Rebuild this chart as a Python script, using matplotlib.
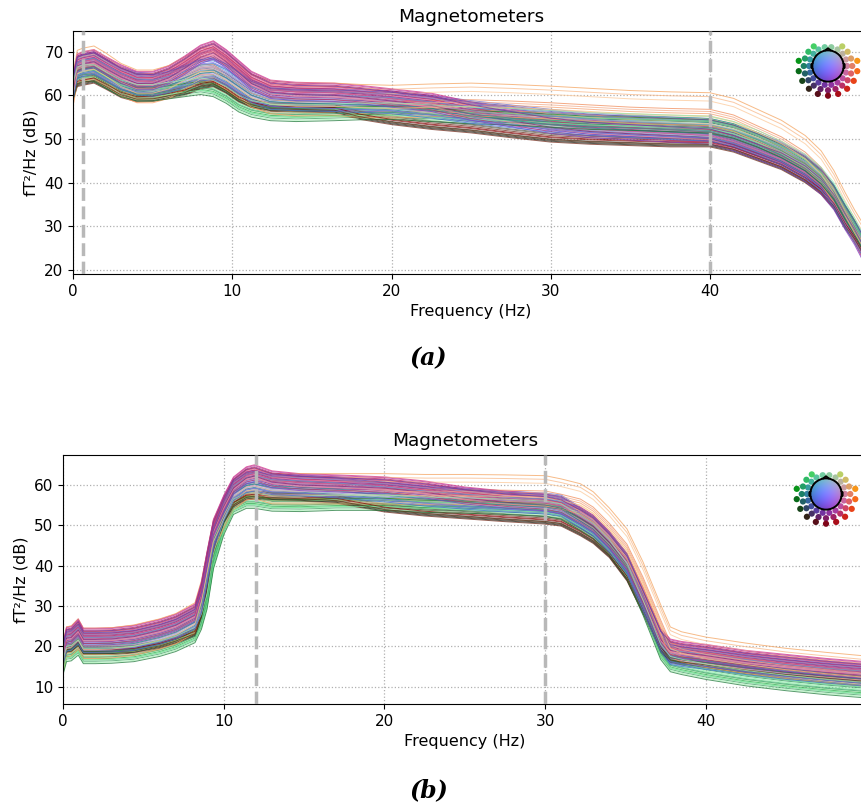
import numpy as np
import matplotlib
matplotlib.use("Agg")
import matplotlib.pyplot as plt
from matplotlib.patches import Circle, Polygon

# ---- panel (a): group level curves (dB) read at these frequencies ----
freqs_a = [0, 0.25, 0.6, 1.3, 2, 3, 4, 5, 6, 7, 8, 8.8, 9.6, 10.4, 11.2, 12.4, 14, 16.4, 18, 20,
           22.5, 25, 27.5, 30, 32.5, 35, 37.5, 40, 41.5, 43, 44.5, 46, 47, 47.8, 48.5, 49.1, 49.6]
orange_a = [65, 70, 70.5, 71, 69.5, 67, 65.5, 65.5, 66.5, 68.5, 70.5, 70.5, 68.5, 66.5, 64.5, 63, 62.5, 62.5, 62.2, 62,
            62.3, 62.5, 62.2, 61.8, 61.3, 60.8, 60.5, 60.3, 59, 56.5, 54, 50.5, 47, 42.5, 37.5, 33.5, 30.5]
magenta_a = [64, 68.5, 69, 69.5, 68, 66, 64.5, 64.5, 65.8, 68, 70.5, 71.5, 69.5, 67, 64.5, 62.5, 62, 61.8, 61.3, 60.5,
             59.5, 57.5, 56, 54.5, 53.5, 53, 52.5, 52, 50.5, 48.5, 46.5, 43.5, 40.5, 37, 32.5, 29, 25.5]
blue_a = [62, 66.5, 67, 67.5, 66, 64, 62.8, 62.5, 63.3, 64.5, 66, 66.3, 65, 63, 61, 59.5, 59.2, 59, 58.8, 58.5,
          57.5, 56.3, 55.3, 54.3, 53.5, 53, 52.6, 52.2, 51, 49, 46.8, 43.8, 40.8, 37, 32.5, 29, 26]
green_a = [61, 64.5, 65, 65, 63.5, 61.5, 60.5, 60.5, 61, 61.5, 62, 61.5, 60, 58, 56.8, 56, 55.8, 56, 56.2, 56.3,
           55.8, 55.3, 55, 54.5, 54, 53.8, 53.5, 53.2, 52, 50, 47.5, 44.5, 41.5, 38, 33.5, 30, 26.5]
dark_a = [60, 63, 63.3, 63.8, 62.5, 60.5, 59.5, 59.6, 60.3, 61, 62.5, 63, 61.5, 59.5, 58.2, 57.3, 57.2, 57, 55.5, 54.3,
          53.2, 52.4, 51.3, 50.3, 49.8, 49.5, 49.2, 49.2, 48, 46, 44, 41, 38.3, 35, 30.5, 27.5, 24.5]

# ---- panel (b) ----
freqs_b = [0, 0.2, 0.5, 0.93, 1.25, 2, 3, 4.4, 6, 7, 8.2, 8.6, 8.95, 9.35, 10, 10.6, 11.4, 11.9, 13, 14.75,
           17, 20, 22.5, 25, 27.5, 30, 31, 32.2, 33, 34, 35.1, 36.1, 37.2, 37.8, 38.5, 40, 42.5, 45, 47.5, 49.7]
orange_b = [21, 24.5, 24.8, 26.5, 24.2, 24.2, 24.3, 25, 26.5, 27.8, 30.5, 36, 43, 51, 56.5, 61, 63.5, 63.8, 62.5, 62.5,
            62.5, 62.5, 62.3, 62.3, 62.2, 62, 61.2, 60, 58, 54, 48.8, 40.6, 30, 24.5, 23.3, 22, 20.5, 19.2, 18.2, 17.4]
magenta_b = [20, 23.8, 24, 25.8, 23.5, 23.5, 23.6, 24.2, 25.7, 27, 29.5, 35, 42.5, 50.5, 56.5, 61, 63.5, 64, 62.5, 61.8,
             61.5, 61, 60, 58.5, 57.5, 56.8, 56, 53.5, 51.5, 47.5, 42, 33.5, 23.5, 20.8, 20.2, 19.5, 18, 17, 16, 15.3]
blue_b = [18.5, 21.5, 21.8, 23.3, 21.2, 21.2, 21.3, 21.7, 23.2, 24.5, 27, 31, 38, 47, 53.8, 58.8, 60.8, 61.2, 60.3, 60,
          59.5, 58.5, 57.5, 56.7, 56, 55.5, 55, 52, 50, 46, 40.6, 31.5, 21.5, 18.2, 17.7, 17, 15.7, 14.5, 13.6, 12.9]
green_b = [15, 18, 18.2, 19.6, 17.5, 17.5, 17.6, 18, 19.3, 20.5, 22.7, 26, 31, 41, 49.5, 54.5, 56, 56, 55.3, 55.2,
           55.5, 55.5, 55, 54.8, 54.5, 54, 53.3, 50.5, 48.5, 44.5, 38.5, 29.5, 18.5, 15.5, 14.8, 13.6, 12, 10.8, 9.8, 9.1]
dark_b = [17, 19.5, 19.6, 21, 19, 19, 19, 19.3, 20.5, 21.7, 23.5, 28, 35, 44, 51.5, 55.5, 57.3, 57.5, 57.2, 57,
          56.5, 54.3, 53.3, 52.6, 51.9, 51.3, 50.8, 48.4, 46.5, 43, 37.2, 29, 19.5, 17, 16.5, 15.8, 14.5, 13.4, 12.5, 11.8]

# ---- channels: colour and level relative to its group curve (dB) ----
orange_colors = ['#f4a460', '#f8b888', '#fcc99a', '#f08c5a', '#f5a070', '#fbd3a8',
                 '#f7956b', '#e9b070', '#f6bfa0', '#ff9f60', '#f3aa88', '#f9c27e']
orange_offsets = [0.3, -0.6, -1.6, -3.5, -4.5, -5.2, -5.8, -6.3, -6.8, -7.2, -4, -5]
magenta_colors = ['#d63384', '#c2185b', '#e0559a', '#b03080', '#e86a9a', '#a0206a', '#d84a70',
                  '#c8407a', '#e27aa8', '#9c2790', '#b83aa0', '#e05050', '#cc3366', '#a83280',
                  '#d0508c', '#8e1f6e', '#f07a90', '#c03070', '#8040c0', '#7030a0']
magenta_offsets = [1, 0.5, 0, -0.3, -0.6, -1, -1.3, -1.6, -2, -2.4,
                   0.8, 0.2, -0.4, -0.8, -1.2, -1.8, -2.2, -2.8, -3.2, 0.3]
blue_colors = ['#5a6ee0', '#6a5acd', '#4f7fd8', '#7b68ee', '#3f6fc0', '#5f9ad8', '#8a70e0', '#4a60b8',
               '#6f8fe8', '#5577cc', '#3a7ab8', '#9a8ae0', '#7fa0d8', '#2f80a0', '#4488aa', '#5b5bd6',
               '#8080c0', '#6699cc', '#a0a0c8', '#3c9090', '#2e8b8b', '#7070e0', '#6050b0', '#4070d0']
blue_offsets = [2.5, 2, 1.6, 1.2, 0.9, 0.6, 0.3, 0, -0.3, -0.6, -0.9, -1.2,
                -1.5, -1.8, -2.1, -2.4, 1.8, 1, 0.2, -0.5, -1, -2, 2.2, -2.7]
green_colors = ['#3cb371', '#66e08a', '#2e8b57', '#80f0a0', '#50c878', '#90ee90', '#20a040', '#6fd890',
                '#3a9d5d', '#a0f0b0', '#228b22', '#5ad080', '#40a070', '#78e898', '#1f7a3a', '#98e8b0']
green_offsets = [1.5, 1, 0.6, 0.3, 0, -0.3, -0.6, -0.9, -1.2, -1.5, 1.2, 0.8, -0.2, -0.8, -1.8, 2]
dark_colors = ['#5a5a48', '#6b2a1a', '#8b1a1a', '#4a4a3a', '#3a2a1a',
               '#7a3020', '#606050', '#2b2b20', '#800000', '#5c3317']
dark_offsets = [1, 0.5, 0, -0.3, -0.6, -1, 0.8, -0.8, 0.2, -0.4]

xticks = [0, 10, 20, 30, 40]
yticks_a = [20, 30, 40, 50, 60, 70]
yticks_b = [10, 20, 30, 40, 50, 60]
marks_a = [0.63, 40]
marks_b = [12, 30]

plt.rcParams['font.size'] = 11

W, H = 861, 811
fig = plt.figure(figsize=(W / 100, H / 100), dpi=100)


def draw_psd(ax, freqs, curves, marks, ylim, yticks):
    groups = [(curves[3], green_colors, green_offsets),
              (curves[4], dark_colors, dark_offsets),
              (curves[0], orange_colors, orange_offsets),
              (curves[2], blue_colors, blue_offsets),
              (curves[1], magenta_colors, magenta_offsets)]
    # interleave the groups so that no colour family sits fully on top
    lines = []
    for curve, colors, offsets in groups:
        n = len(colors)
        for i, (c, off) in enumerate(zip(colors, offsets)):
            lines.append(((i + 0.5) / n, curve, c, off))
    lines.sort(key=lambda t: t[0])
    for _, curve, c, off in lines:
        ax.plot(freqs, np.array(curve) + off, color=c, lw=0.7, alpha=0.75)
    for m in marks:
        ax.axvline(m, color='#b8b8b8', ls='--', lw=2.5, zorder=5)
    ax.set_xlim(0, 50)
    ax.set_ylim(*ylim)
    ax.set_xticks(xticks)
    ax.set_yticks(yticks)
    ax.grid(True, ls=':', color='#b0b0b0', lw=0.9)
    ax.set_title('Magnetometers', fontsize=13.3)
    ax.set_xlabel('Frequency (Hz)', fontsize=11.5)
    ax.set_ylabel('fT²/Hz (dB)', fontsize=11.5)


def sensor_rgb(x, y):
    r = np.hypot(x, y)
    return np.clip(np.stack([(x / 2.0 + 1) / 2, (y / 2.0 + 1) / 2, 1 - (r / 2.0) ** 2], -1), 0, 1)


def sensor_legend(cx, cy):
    size = 76
    ax = fig.add_axes([(cx - size / 2) / W, 1 - (cy + size / 2) / H, size / W, size / H])
    ax.set_xlim(-2.43, 2.43)
    ax.set_ylim(-2.43, 2.43)
    ax.axis('off')
    rings = [(1.22, list(range(0, 360, 20))),
             (1.55, [a for a in range(0, 360, 18) if not 55 < a < 125]),
             (1.9, list(range(170, 371, 20)))]
    for rad, angles in rings:
        t = np.deg2rad(angles)
        x, y = rad * np.cos(t), rad * np.sin(t)
        ax.scatter(x, y, s=20, c=sensor_rgb(x, y), edgecolors='none', zorder=1)
    g = np.linspace(-1, 1, 120)
    gx, gy = np.meshgrid(g, g)
    im = ax.imshow(sensor_rgb(gx, gy), extent=(-1, 1, -1, 1), origin='lower', zorder=2)
    clip = Circle((0, 0), 1, transform=ax.transData)
    im.set_clip_path(clip)
    ax.add_patch(Circle((0, 0), 1, fill=False, ec='black', lw=1.4, zorder=3))
    ax.add_patch(Polygon([(-0.2, 0.98), (0, 1.13), (0.2, 0.98)], closed=False,
                         fill=False, ec='black', lw=1.4, zorder=3))
    for s in (-1, 1):
        ax.plot([s * 0.99, s * 1.07, s * 1.07, s * 0.99], [0.18, 0.12, -0.12, -0.18],
                color='black', lw=1.2, zorder=3)


ax_a = fig.add_axes([73.3 / W, 1 - 274 / H, 0.924, (274 - 30.7) / H])
draw_psd(ax_a, freqs_a, [orange_a, magenta_a, blue_a, green_a, dark_a], marks_a, (19.1, 74.8), yticks_a)

ax_b = fig.add_axes([63.3 / W, 1 - 704 / H, 0.9326, (704 - 454.7) / H])
draw_psd(ax_b, freqs_b, [orange_b, magenta_b, blue_b, green_b, dark_b], marks_b, (5.7, 67.5), yticks_b)

sensor_legend(828, 66)
sensor_legend(826, 494)

fig.text(428.5 / W, 1 - 358 / H, '(a)', ha='center', va='center', fontsize=17,
         fontweight='bold', fontstyle='italic', family='DejaVu Serif')
fig.text(428.5 / W, 1 - 790 / H, '(b)', ha='center', va='center', fontsize=17,
         fontweight='bold', fontstyle='italic', family='DejaVu Serif')

fig.savefig('out.png', dpi=100)
